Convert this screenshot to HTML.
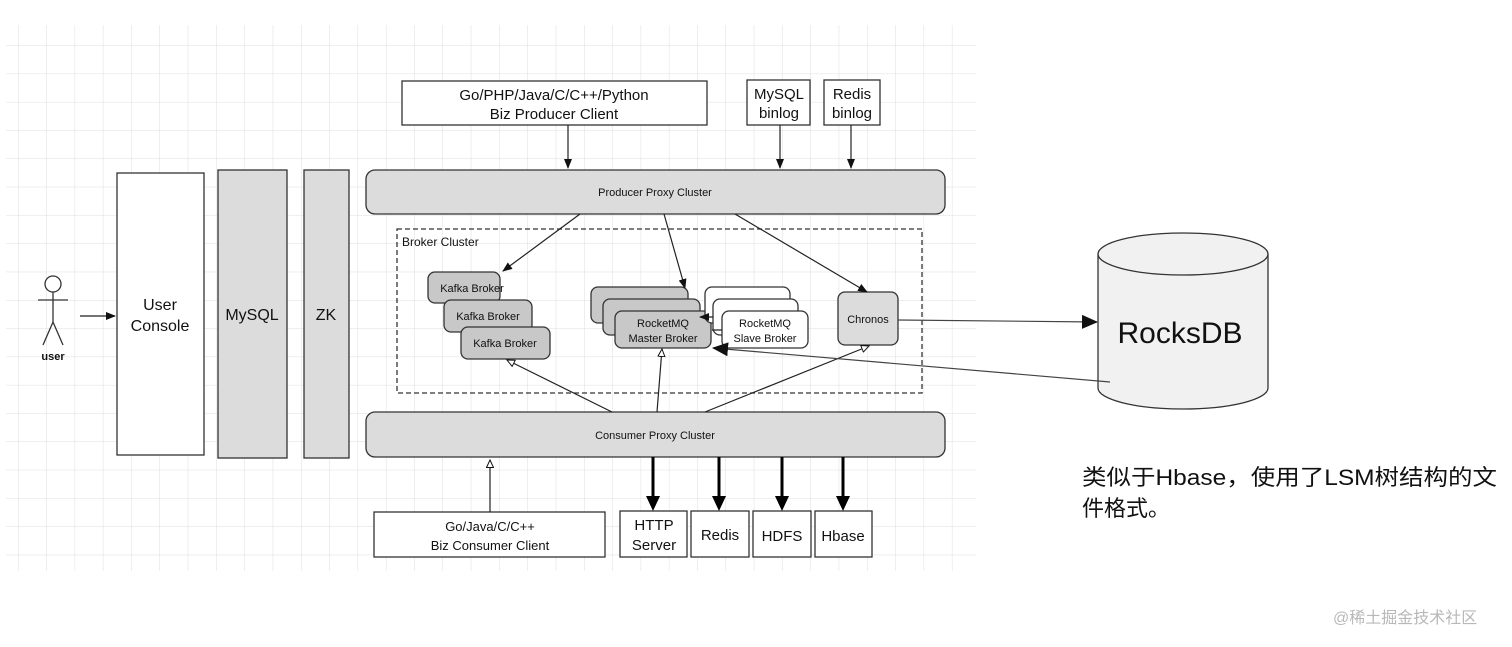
<!DOCTYPE html>
<html><head><meta charset="utf-8"><style>
html,body{margin:0;padding:0;background:#fff;width:1512px;height:647px;overflow:hidden}
text{font-family:"Liberation Sans","Noto Sans CJK SC",sans-serif;fill:#111}
</style></head><body>
<svg width="1512" height="647" viewBox="0 0 1512 647" xmlns="http://www.w3.org/2000/svg">
<defs>
<pattern id="g" width="28.3" height="28.3" patternUnits="userSpaceOnUse" x="18" y="17">
<path d="M0 0H28.3M0 0V28.3" stroke="#dedede" stroke-width="1" fill="none"/>
</pattern>
<marker id="a" markerWidth="10" markerHeight="8" refX="9" refY="4" orient="auto" markerUnits="userSpaceOnUse"><path d="M0 0L10 4L0 8z" fill="#111"/></marker>
<marker id="o" markerWidth="9" markerHeight="8" refX="8" refY="4" orient="auto" markerUnits="userSpaceOnUse"><path d="M0.5 0.5L8 4L0.5 7.5z" fill="#fff" stroke="#111"/></marker>
<marker id="b" markerWidth="16" markerHeight="14" refX="15" refY="7" orient="auto" markerUnits="userSpaceOnUse"><path d="M0 0L16 7L0 14z" fill="#111"/></marker>
</defs>
<rect x="6" y="25" width="970" height="546" fill="url(#g)"/>
<g stroke="#333" stroke-width="1.3" fill="none">
<circle cx="53" cy="284" r="8" fill="#fff"/>
<path d="M53 292V322M38 300H68M53 322L43 345M53 322L63 345"/>
</g>
<text x="53" y="360" font-size="11" font-weight="bold" text-anchor="middle">user</text>
<g stroke="#333" stroke-width="1.3">
<rect x="117" y="173" width="87" height="282" fill="#fff"/>
<rect x="218" y="170" width="69" height="288" fill="#dcdcdc"/>
<rect x="304" y="170" width="45" height="288" fill="#dcdcdc"/>
<rect x="366" y="170" width="579" height="44" rx="9" fill="#dcdcdc"/>
<rect x="366" y="412" width="579" height="45" rx="9" fill="#dcdcdc"/>
<rect x="402" y="81" width="305" height="44" fill="#fff"/>
<rect x="747" y="80" width="63" height="45" fill="#fff"/>
<rect x="824" y="80" width="56" height="45" fill="#fff"/>
<rect x="397" y="229" width="525" height="164" fill="none" stroke-dasharray="5,3"/>
<rect x="428" y="272" width="72" height="31" rx="7" fill="#c8c8c8"/>
<rect x="444" y="300" width="88" height="32" rx="7" fill="#c8c8c8"/>
<rect x="461" y="327" width="89" height="32" rx="7" fill="#c8c8c8"/>
<rect x="591" y="287" width="97" height="36" rx="7" fill="#c8c8c8"/>
<rect x="603" y="299" width="97" height="36" rx="7" fill="#c8c8c8"/>
<rect x="615" y="311" width="96" height="37" rx="7" fill="#c8c8c8"/>
<rect x="705" y="287" width="85" height="36" rx="7" fill="#fff"/>
<rect x="713" y="299" width="85" height="36" rx="7" fill="#fff"/>
<rect x="722" y="311" width="86" height="37" rx="7" fill="#fff"/>
<rect x="838" y="292" width="60" height="53" rx="7" fill="#dcdcdc"/>
<rect x="374" y="512" width="231" height="45" fill="#fff"/>
<rect x="620" y="511" width="67" height="46" fill="#fff"/>
<rect x="691" y="511" width="58" height="46" fill="#fff"/>
<rect x="753" y="511" width="58" height="46" fill="#fff"/>
<rect x="815" y="511" width="57" height="46" fill="#fff"/>
<path d="M1098 254V388A85 21 0 0 0 1268 388V254" fill="#f1f1f1"/>
<ellipse cx="1183" cy="254" rx="85" ry="21" fill="#f1f1f1"/>
</g>
<g stroke="#222" stroke-width="1.2" fill="none">
<path d="M80 316H115" marker-end="url(#a)"/>
<path d="M568 125V168" marker-end="url(#a)"/>
<path d="M780 125V168" marker-end="url(#a)"/>
<path d="M851 125V168" marker-end="url(#a)"/>
<path d="M580 214L503 271" marker-end="url(#a)"/>
<path d="M664 214L685 288" marker-end="url(#a)"/>
<path d="M735 214L867 292" marker-end="url(#a)"/>
<path d="M612 412L507 360" marker-end="url(#o)"/>
<path d="M657 412L662 349" marker-end="url(#o)"/>
<path d="M705 412L869 346" marker-end="url(#o)"/>
<path d="M490 512V460" marker-end="url(#o)"/>
<path d="M898 320L1097 322" stroke="#444" marker-end="url(#b)"/>
<path d="M1110 382L713 348" stroke="#444" marker-end="url(#b)"/>
<path d="M722 330L712 330M713 317L700 317" marker-end="url(#a)"/>
</g>
<g stroke="#000" stroke-width="3" fill="none">
<path d="M653 457V497M719 457V497M782 457V497M843 457V497"/>
</g>
<g fill="#000">
<path d="M646 496H660L653 511z"/>
<path d="M712 496H726L719 511z"/>
<path d="M775 496H789L782 511z"/>
<path d="M836 496H850L843 511z"/>
</g>
<g text-anchor="middle">
<text x="160" y="310" font-size="16">User</text>
<text x="160" y="331" font-size="16">Console</text>
<text x="252" y="320" font-size="16">MySQL</text>
<text x="326" y="320" font-size="16">ZK</text>
<text x="554" y="100" font-size="15">Go/PHP/Java/C/C++/Python</text>
<text x="554" y="119" font-size="15">Biz Producer Client</text>
<text x="779" y="99" font-size="15">MySQL</text>
<text x="779" y="118" font-size="15">binlog</text>
<text x="852" y="99" font-size="15">Redis</text>
<text x="852" y="118" font-size="15">binlog</text>
<text x="655" y="196" font-size="11">Producer Proxy Cluster</text>
<text x="655" y="439" font-size="11">Consumer Proxy Cluster</text>
<text x="472" y="292" font-size="11">Kafka Broker</text>
<text x="488" y="320" font-size="11">Kafka Broker</text>
<text x="505" y="347" font-size="11">Kafka Broker</text>
<text x="663" y="327" font-size="11">RocketMQ</text>
<text x="663" y="342" font-size="11">Master Broker</text>
<text x="765" y="327" font-size="11">RocketMQ</text>
<text x="765" y="342" font-size="11">Slave Broker</text>
<text x="868" y="323" font-size="11">Chronos</text>
<text x="490" y="531" font-size="13">Go/Java/C/C++</text>
<text x="490" y="550" font-size="13">Biz Consumer Client</text>
<text x="654" y="530" font-size="15">HTTP</text>
<text x="654" y="550" font-size="15">Server</text>
<text x="720" y="540" font-size="15">Redis</text>
<text x="782" y="541" font-size="15">HDFS</text>
<text x="843" y="541" font-size="15">Hbase</text>
<text x="1180" y="343" font-size="30">RocksDB</text>
</g>
<text x="402" y="246" font-size="12">Broker Cluster</text>
<text x="1082" y="485" font-size="22" textLength="415" lengthAdjust="spacingAndGlyphs">类似于Hbase，使用了LSM树结构的文</text>
<text x="1082" y="516" font-size="22" textLength="88" lengthAdjust="spacingAndGlyphs">件格式。</text>
<text x="1333" y="623" font-size="16" style="fill:#b8b8b8">@稀土掘金技术社区</text>
</svg>
</body></html>
